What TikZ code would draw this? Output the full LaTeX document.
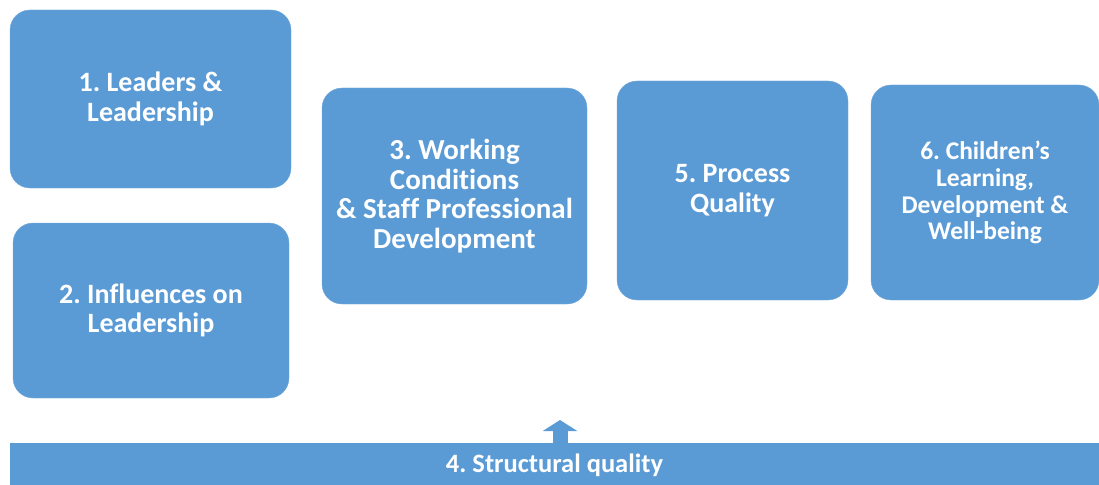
\documentclass[tikz,border=0pt]{standalone}
\usepackage{fontspec}
\setmainfont{Carlito}[RawFeature=-liga]
\frenchspacing
\usetikzlibrary{arrows.meta}
\definecolor{boxblue}{HTML}{5B9BD5}
\tikzset{
	stage/.style={fill=boxblue, draw=boxblue!85!white, rounded corners=20pt, text=white, align=center,
		font=\bfseries\fontsize{28}{29.5}\selectfont, inner sep=0pt},
}
\begin{document}
\begin{tikzpicture}[x=1pt, y=-1pt]
	\useasboundingbox (0, 0) rectangle (1099, 484);
	\node [stage, minimum width=281pt, minimum height=178pt] (leaders) at (150.5, 99) {1. Leaders \&\\Leadership};
	\node [stage, minimum width=276pt, minimum height=175pt] (influences) at (151, 310.5) {2. Influences on\\Leadership};
	\node [stage, minimum width=265pt, minimum height=216pt, font=\bfseries\fontsize{29}{29.5}\selectfont] (working) at (454.5, 196) {3. Working\\Conditions\\\& Staff Professional\\Development};
	\node [stage, minimum width=231pt, minimum height=219pt] (process) at (732.5, 190.5) {5. Process\\Quality};
	\node [stage, minimum width=228pt, minimum height=215pt, font=\bfseries\fontsize{25.5}{26.8}\selectfont] (children) at (985, 192.5) {6. Children’s\\Learning,\\Development \&\\Well-being};
	
	\node [fill=boxblue, text=white, font=\bfseries\fontsize{26.5}{30}\selectfont, minimum width=1090pt, minimum height=44pt, inner sep=0pt] (structural) at (554.5, 465) {4. Structural quality};
	
	\coordinate (up) at (560, 420);
	\draw [boxblue, line width=15pt, -{Triangle[width=34pt, length=11pt]}] (structural.north -| up) to (up);
\end{tikzpicture}
\end{document}
